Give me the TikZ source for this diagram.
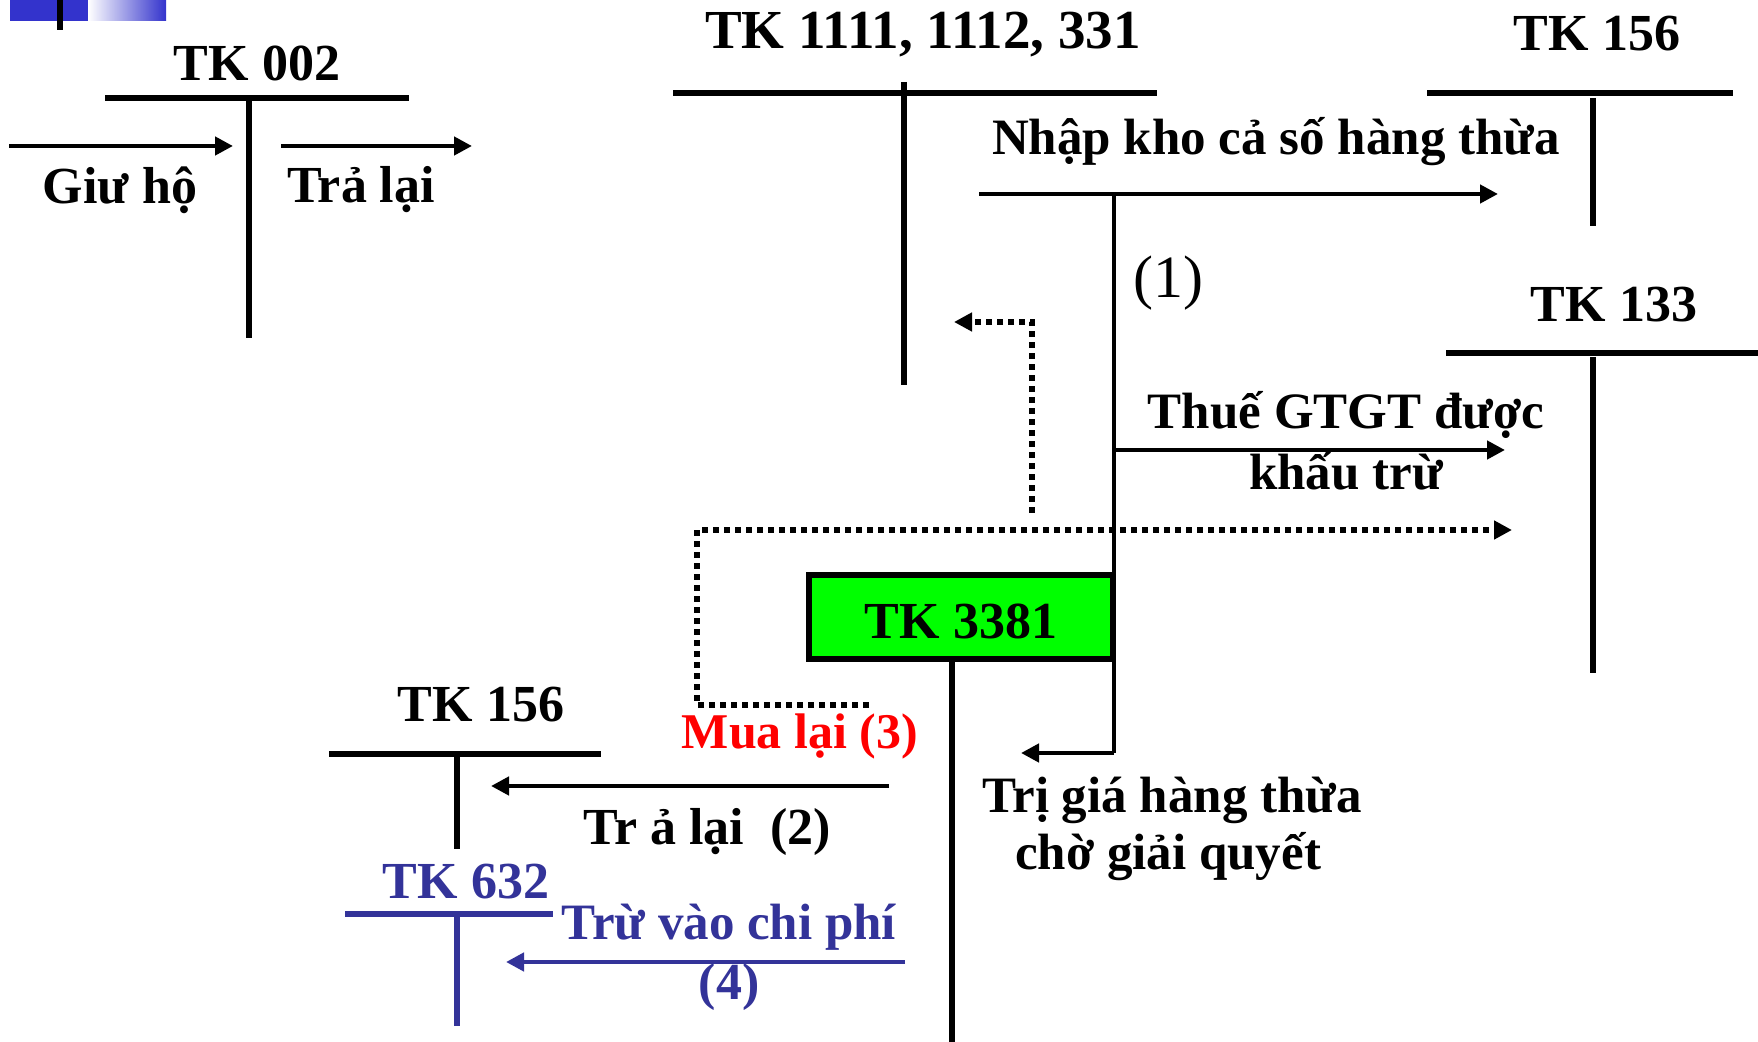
\documentclass[tikz,border=0pt]{standalone}
\usepackage{fontspec}
\setmainfont{Liberation Serif}
\usetikzlibrary{arrows.meta,calc}
\definecolor{tkblue}{RGB}{51,51,153}
\definecolor{logoblue}{RGB}{51,51,204}

\begin{document}
\begin{tikzpicture}[x=0.5pt,y=-0.5pt,>={Triangle[length=9pt,width=9pt]},
        lbl/.style={font=\fontsize{26}{30}\selectfont\bfseries,inner sep=0pt},
        bar/.style={line width=2.6pt},
        flow/.style={->,line width=2.2pt},
        dots/.style={line width=2.6pt,dash pattern=on 3pt off 2.5pt}]

        \useasboundingbox (0,0) rectangle (1758,1042);

        % Logo
        \fill[logoblue] (10,0) rectangle (88,21);
        \shade[left color=white,right color=logoblue] (88,0) rectangle (166,21);
        \draw[line width=3pt] (60,0) -- (60,30);

        % TK 002
        \node[lbl] (tk002) at (257,63) {TK 002};
        \draw[bar] (105,98) -- (409,98);
        \draw[bar] (249,98) -- (249,338);
        \coordinate (giuA) at (9,146);
        \coordinate (giuB) at (233,146);
        \coordinate (traA) at (281,146);
        \coordinate (traB) at (472,146);
        \draw[flow] (giuA) -- (giuB);
        \draw[flow] (traA) -- (traB);
        \node[lbl] (giuho) at (120,190) {Giư hộ};
        \node[lbl] (tralai) at (361,190) {Trả lại};

        % TK 1111, 1112, 331
        \node[lbl,font=\fontsize{27.5}{30}\selectfont\bfseries] (tk111) at (923,35) {TK 1111, 1112, 331};
        \draw[line width=3.2pt] (673,93) -- (1157,93);
        \draw[bar] (904,82) -- (904,385);

        % TK 156 (top)
        \node[lbl] (tk156a) at (1597,34) {TK 156};
        \draw[bar] (1427,93) -- (1733,93);
        \draw[bar] (1593,98) -- (1593,226);

        % TK 133
        \node[lbl] (tk133) at (1614,305) {TK 133};
        \draw[bar] (1446,353) -- (1758,353);
        \draw[bar] (1593,357) -- (1593,673);

        % TK 3381
        \node[draw,fill=green,line width=2.6pt,minimum width=152pt,minimum height=42pt]
            (tk3381) at (961,617) {};
        \node[lbl] (tk3381t) at (961,621) {TK 3381};
        \coordinate (c3381) at (952,1042);
        \draw[bar] (tk3381.south -| c3381) -- (c3381);

        % (1) nhap kho
        \coordinate (nkA) at (979,194);
        \coordinate (nkB) at (1498,194);
        \coordinate (vtop) at (1114,194);
        \coordinate (vbot) at (1114,753);
        \coordinate (vend) at (1021,753);
        \coordinate (gtA) at (1114,450);
        \coordinate (gtB) at (1505,450);
        \draw[flow] (nkA) -- (nkB);
        \draw[line width=2.2pt] (vtop) -- (vbot);
        \draw[flow] (vbot) -- (vend);
        \draw[flow] (gtA) -- (gtB);
        \node[lbl,font=\fontsize{25.5}{30}\selectfont\bfseries] (nhap) at (1276,142) {Nhập kho cả số hàng thừa};
        \node[inner sep=0pt,font=\fontsize{30}{34}\selectfont] (one) at (1168,283) {(1)};
        \node[lbl,font=\fontsize{25.5}{30}\selectfont\bfseries] (thue) at (1346,415) {Thuế GTGT được};
        \node[lbl,font=\fontsize{25.5}{30}\selectfont\bfseries] (khau) at (1346,471) {khấu trừ};
        \node[lbl,font=\fontsize{25.5}{30}\selectfont\bfseries] (trigia) at (1172,800) {Trị giá hàng thừa};
        \node[lbl,font=\fontsize{25.5}{30}\selectfont\bfseries] (cho) at (1168,857) {chờ giải quyết};

        % (3) mua lai
        \coordinate (mlA) at (869,705);
        \coordinate (mlB) at (697,705);
        \coordinate (mlC) at (697,530);
        \coordinate (mlD) at (1512,530);
        \coordinate (mlE) at (1032,513);
        \coordinate (mlF) at (1032,322);
        \coordinate (mlG) at (954,322);
        \draw[dots,->] (mlA) -- (mlB) -- (mlC) -- (mlD);
        \draw[dots,->] (mlE) -- (mlF) -- (mlG);
        \node[lbl,red,font=\fontsize{25}{30}\selectfont\bfseries] (mualai) at (800,736) {Mua lại (3)};

        % TK 156 (bottom)
        \node[lbl] (tk156b) at (481,705) {TK 156};
        \draw[bar] (329,754) -- (601,754);
        \draw[bar] (457,754) -- (457,849);
        \coordinate (tlA) at (889,786);
        \coordinate (tlB) at (491,786);
        \draw[flow] (tlA) -- (tlB);
        \node[lbl] (tralai2) at (707,832) {Tr ả lại~~(2)};

        % TK 632
        \node[lbl,tkblue] (tk632) at (466,882) {TK 632};
        \draw[bar,tkblue] (345,914) -- (553,914);
        \draw[bar,tkblue] (457,914) -- (457,1026);
        \coordinate (cpA) at (905,962);
        \coordinate (cpB) at (506,962);
        \draw[flow,tkblue] (cpA) -- (cpB);
        \node[lbl,tkblue,font=\fontsize{25.5}{30}\selectfont\bfseries] (truchi) at (729,927) {Trừ vào chi phí};
        \node[lbl,tkblue] (four) at (729,987) {(4)};

    \end{tikzpicture}
\end{document}
